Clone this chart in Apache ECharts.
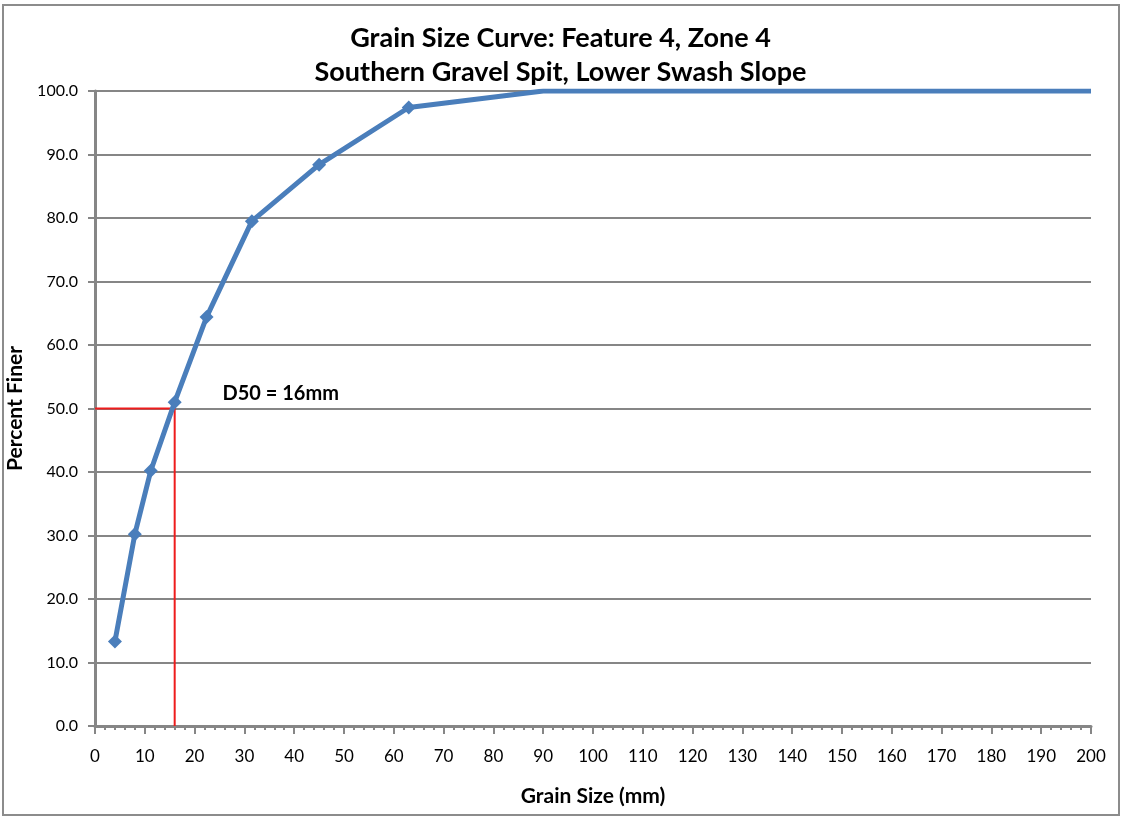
<!DOCTYPE html>
<html lang="en">
<head>
    <meta charset="UTF-8">
    <title>Grain Size Curve</title>
    <style>
        html,body{margin:0;padding:0;background:#fff;}
        #main{width:1121px;height:817px;}
    </style>
    <script type="text/javascript" src="https://cdn.jsdelivr.net/npm/echarts@6/dist/echarts.min.js"></script>
</head>
<body>
<div id="main"></div>
</body>
<script>
    // sieve sizes (mm) and percent finer
    let grainSize=[4,8,11.2,16,22.4,31.5,45,63,90,200];
    let percentFiner=[13.3,30.2,40.2,51.0,64.4,79.5,88.4,97.4,100,100];
    // points after 63 mm carry no marker in the original
    let hasMarker=[true,true,true,true,true,true,true,true,false,false];
    let d50=16;
    let d50Label='D50 = 16mm';
    let d50LabelAt=[25.5,52.4];

    let font='Lato, "Noto Sans", sans-serif';
    let gray='#868686';

    let data=grainSize.map((x,i)=>{
        return{
            value:[x,percentFiner[i]],
            symbol:hasMarker[i]?'diamond':'none'
        }
    });

    let chart=echarts.init(document.getElementById('main'));
    let option={
        animation:false,
        title:{
            text:'Grain Size Curve: Feature 4, Zone 4\nSouthern Gravel Spit, Lower Swash Slope',
            left:'center',
            top:16,
            textStyle:{
                color:'#000',
                fontFamily:font,
                fontWeight:'bold',
                fontSize:27,
                lineHeight:34
            }
        },
        graphic:[{
            type:'rect',
            shape:{x:3,y:5,width:1116,height:810},
            style:{fill:'none',stroke:'#8c8c8c',lineWidth:2},
            silent:true
        }],
        grid:{left:95,right:30,top:91,bottom:91,containLabel:false,outerBoundsMode:'none'},
        xAxis:{
            type:'value',
            min:0,
            max:200,
            interval:10,
            name:'Grain Size (mm)',
            nameLocation:'middle',
            nameGap:60,
            nameTextStyle:{color:'#000',fontFamily:font,fontWeight:'bold',fontSize:21},
            axisLine:{show:true,lineStyle:{color:gray,width:3}},
            axisTick:{show:true,length:8,lineStyle:{color:gray,width:2}},
            minorTick:{show:true,splitNumber:5,length:4,lineStyle:{color:gray,width:2}},
            axisLabel:{color:'#000',fontFamily:font,fontSize:17,margin:22},
            splitLine:{show:false}
        },
        yAxis:{
            type:'value',
            min:0,
            max:100,
            interval:10,
            name:'Percent Finer',
            nameLocation:'middle',
            nameGap:64,
            nameRotate:90,
            nameTextStyle:{color:'#000',fontFamily:font,fontWeight:'bold',fontSize:21},
            axisLine:{show:true,lineStyle:{color:gray,width:3}},
            axisTick:{show:true,length:7,lineStyle:{color:gray,width:2}},
            axisLabel:{color:'#000',fontFamily:font,fontSize:16,margin:17,
                formatter:v=>v.toFixed(1)},
            splitLine:{show:true,lineStyle:{color:gray,width:2}}
        },
        series:[
            {
                type:'line',
                name:'D50',
                data:[[0,50],[d50,50],[d50,0]],
                symbol:'none',
                lineStyle:{color:'#ee1c1c',width:2},
                z:2,
                silent:true
            },
            {
                type:'line',
                name:'Grain size',
                data:data,
                symbolSize:14,
                itemStyle:{color:'#4a7ebb'},
                lineStyle:{color:'#4a7ebb',width:5},
                z:3
            },
            {
                type:'scatter',
                data:[d50LabelAt],
                symbolSize:1,
                itemStyle:{color:'rgba(0,0,0,0)',opacity:1},
                label:{
                    show:true,
                    position:'right',
                    distance:0,
                    formatter:d50Label,
                    color:'#000',
                    fontFamily:font,
                    fontWeight:'bold',
                    fontSize:20
                },
                silent:true,
                z:4
            }
        ]
    };
    chart.setOption(option);
</script>
</html>
